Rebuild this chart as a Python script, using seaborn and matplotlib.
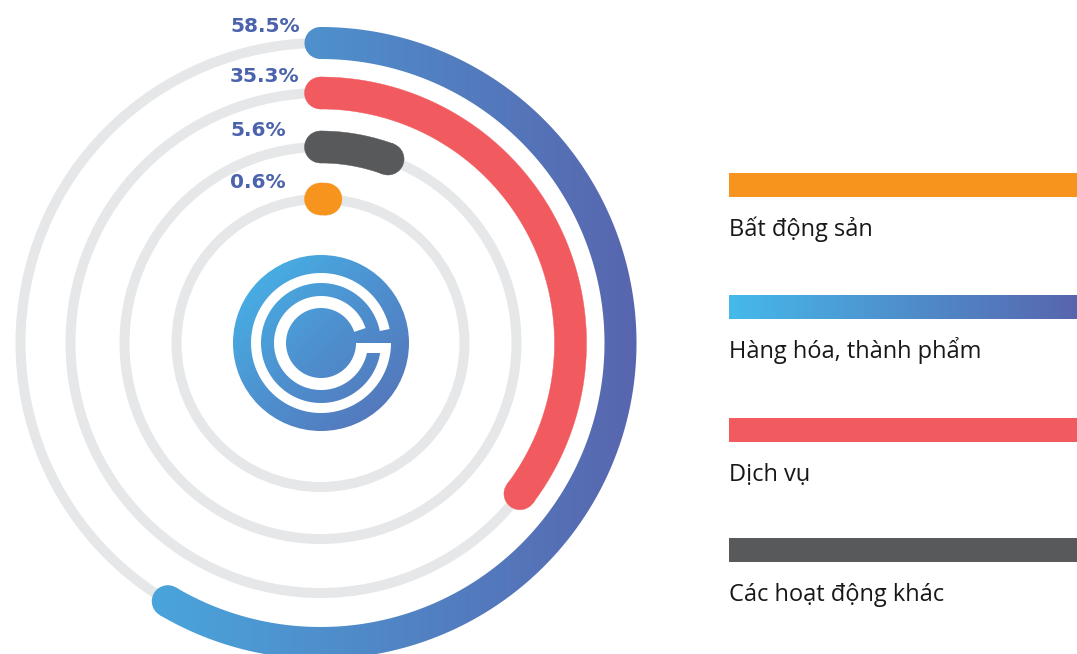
import numpy as np
import matplotlib
matplotlib.use("Agg")
import matplotlib.pyplot as plt
import seaborn as sns
from matplotlib.patches import Polygon, Circle, Rectangle
from matplotlib.colors import LinearSegmentedColormap

# data: share of revenue by segment (%)
categories = ["Bất động sản", "Hàng hóa, thành phẩm", "Dịch vụ", "Các hoạt động khác"]
shares = [0.6, 58.5, 35.3, 5.6]
share_labels = ["0.6%", "58.5%", "35.3%", "5.6%"]
# rings from outside to inside
ring_order = ["Hàng hóa, thành phẩm", "Dịch vụ", "Các hoạt động khác", "Bất động sản"]

palette = sns.color_palette(["#f7941d", "#4e8fcc", "#f15b5f", "#58595b"])
colors = dict(zip(categories, palette))
blue_cmap = LinearSegmentedColormap.from_list("blue_grad", ["#45b9ea", "#5865ae"])
gradient_cat = "Hàng hóa, thành phẩm"

sns.set_theme(style="white")
plt.rcParams['font.family'] = ['Open Sans', 'DejaVu Sans']

W, H = 1077, 654
fig = plt.figure(figsize=(W / 100, H / 100), dpi=100)
ax = fig.add_axes([0, 0, 1, 1])

cx, cy = 320.5, 343
radii = [300, 250, 196, 144]
arc_w = 32
ring_lw = 10 * 0.72  # px -> pt


def arc_xy(r, t):
    # t in degrees, clockwise from 12 o'clock
    t = np.radians(t)
    return cx + r * np.sin(t), cy - r * np.cos(t)


def arc_polygon(r, w, t0, t1, n=300):
    t = np.linspace(t0, t1, n)
    ox, oy = arc_xy(r + w / 2, t)
    ix, iy = arc_xy(r - w / 2, t)
    return np.vstack([np.c_[ox, oy], np.c_[ix, iy][::-1]])


def gradient_fill(patch, x0, x1, y0, y1, cmap, diagonal=False):
    ax.add_patch(patch)
    if diagonal:
        g = np.add.outer(np.linspace(0, 1, 256), np.linspace(0, 1, 256)) / 2
    else:
        g = np.tile(np.linspace(0, 1, 512), (2, 1))
    im = ax.imshow(g, extent=(x0, x1, y1, y0), cmap=cmap, aspect='auto',
                   interpolation='bilinear', zorder=patch.get_zorder())
    im.set_clip_path(patch)


for cat, r in zip(ring_order, radii):
    # grey track
    ax.add_patch(Circle((cx, cy), r, fill=False, edgecolor="#e6e7e8", lw=ring_lw, zorder=1))
    val = shares[categories.index(cat)]
    t1 = val / 100 * 360
    sx, sy = arc_xy(r, 0)
    ex, ey = arc_xy(r, t1)
    parts = [Polygon(arc_polygon(r, arc_w, 0, t1), closed=True),
             Circle((sx, sy), arc_w / 2), Circle((ex, ey), arc_w / 2)]
    if cat == gradient_cat:
        for p in parts:
            p.set_facecolor("none")
            p.set_edgecolor("none")
            p.set_zorder(3)
            gradient_fill(p, cx - r - 20, cx + r + 20, 0, H, blue_cmap)
    else:
        for p in parts:
            p.set_facecolor(colors[cat])
            p.set_edgecolor(colors[cat])
            p.set_linewidth(0.3)
            p.set_zorder(3)
            ax.add_patch(p)
    ax.text(230, cy - r - 17, share_labels[categories.index(cat)], ha='left', va='center',
            fontsize=14.5, fontweight='bold', color="#4b62ac", family=['DejaVu Sans'])

# centre logo
logo_cmap = LinearSegmentedColormap.from_list("logo_grad", ["#45b8ea", "#4e90cf", "#5670b5"])
logo = Circle((cx + 0.5, cy), 88, facecolor="none", edgecolor="none", zorder=4)
gradient_fill(logo, cx - 88, cx + 89, cy - 88, cy + 88, logo_cmap, diagonal=True)


def ring_poly(r_in, r_out, a0, a1, n=200):
    # angles in degrees, counter-clockwise from 3 o'clock (visual)
    a = np.radians(np.linspace(a0, a1, n))
    lx, ly = cx + 0.5, cy
    outer = np.c_[lx + r_out * np.cos(a), ly - r_out * np.sin(a)]
    inner = np.c_[lx + r_in * np.cos(a), ly - r_in * np.sin(a)]
    return np.vstack([outer, inner[::-1]])


ax.add_patch(Polygon(ring_poly(60, 70, 11.5, 360), closed=True, facecolor="white",
                     edgecolor="none", zorder=5))
ax.add_patch(Polygon(ring_poly(35, 47, 18.5, 360), closed=True, facecolor="white",
                     edgecolor="none", zorder=5))
ax.add_patch(Rectangle((cx + 0.5 + 36, cy), 30, 10, facecolor="white", edgecolor="none", zorder=5))

# legend on the right
leg_x = 729
bar_tops = [173, 295, 418, 538]
for cat, top in zip(categories, bar_tops):
    if cat == gradient_cat:
        bar = Rectangle((leg_x, top), W - leg_x, 24, facecolor="none", edgecolor="none", zorder=3)
        gradient_fill(bar, leg_x, W, top, top + 24, blue_cmap)
    else:
        ax.add_patch(Rectangle((leg_x, top), W - leg_x, 24, facecolor=colors[cat],
                               edgecolor="none", zorder=3))
    ax.text(leg_x, top + 63, cat, ha='left', va='baseline', fontsize=17, color="#1a1718")

ax.set_xlim(0, W)
ax.set_ylim(H, 0)
ax.axis('off')
fig.savefig("out.png", dpi=100, facecolor="white")
